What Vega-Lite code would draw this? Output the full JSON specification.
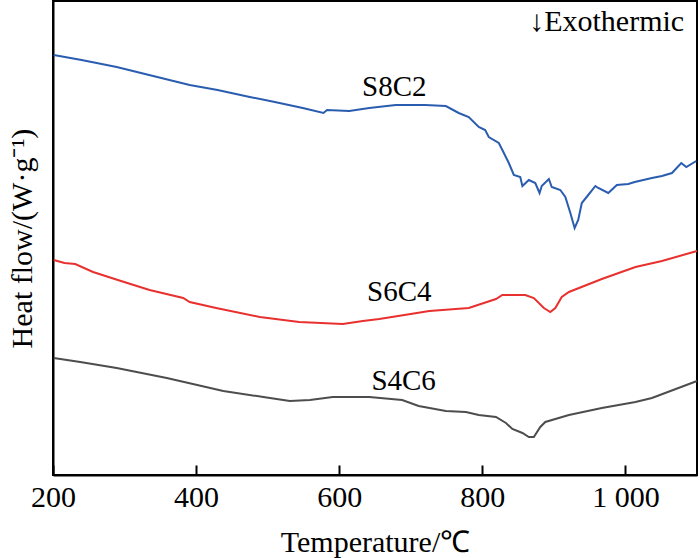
{
  "$schema": "https://vega.github.io/schema/vega-lite/v6.json",
  "width": 644,
  "height": 474,
  "autosize": "none",
  "padding": {"left": 53, "top": 1, "right": 3, "bottom": 83},
  "background": "white",
  "config": {
    "font": "Liberation Serif",
    "view": {"stroke": "black", "strokeWidth": 2}
  },
  "datasets": {
    "curves": [
      {"sample": "S8C2", "T": 201, "hf": 4.20},
      {"sample": "S8C2", "T": 240, "hf": 4.15},
      {"sample": "S8C2", "T": 289, "hf": 4.08},
      {"sample": "S8C2", "T": 340, "hf": 3.99},
      {"sample": "S8C2", "T": 391, "hf": 3.90},
      {"sample": "S8C2", "T": 430, "hf": 3.85},
      {"sample": "S8C2", "T": 475, "hf": 3.78},
      {"sample": "S8C2", "T": 510, "hf": 3.73},
      {"sample": "S8C2", "T": 549, "hf": 3.67},
      {"sample": "S8C2", "T": 578, "hf": 3.62},
      {"sample": "S8C2", "T": 583, "hf": 3.65},
      {"sample": "S8C2", "T": 614, "hf": 3.64},
      {"sample": "S8C2", "T": 642, "hf": 3.67},
      {"sample": "S8C2", "T": 679, "hf": 3.70},
      {"sample": "S8C2", "T": 720, "hf": 3.70},
      {"sample": "S8C2", "T": 749, "hf": 3.69},
      {"sample": "S8C2", "T": 767, "hf": 3.62},
      {"sample": "S8C2", "T": 781, "hf": 3.58},
      {"sample": "S8C2", "T": 795, "hf": 3.48},
      {"sample": "S8C2", "T": 804, "hf": 3.45},
      {"sample": "S8C2", "T": 809, "hf": 3.38},
      {"sample": "S8C2", "T": 823, "hf": 3.32},
      {"sample": "S8C2", "T": 828, "hf": 3.25},
      {"sample": "S8C2", "T": 837, "hf": 3.12},
      {"sample": "S8C2", "T": 844, "hf": 3.00},
      {"sample": "S8C2", "T": 853, "hf": 2.98},
      {"sample": "S8C2", "T": 856, "hf": 2.89},
      {"sample": "S8C2", "T": 865, "hf": 2.95},
      {"sample": "S8C2", "T": 874, "hf": 2.92},
      {"sample": "S8C2", "T": 880, "hf": 2.82},
      {"sample": "S8C2", "T": 883, "hf": 2.89},
      {"sample": "S8C2", "T": 893, "hf": 2.96},
      {"sample": "S8C2", "T": 897, "hf": 2.88},
      {"sample": "S8C2", "T": 909, "hf": 2.85},
      {"sample": "S8C2", "T": 916, "hf": 2.78},
      {"sample": "S8C2", "T": 923, "hf": 2.62},
      {"sample": "S8C2", "T": 929, "hf": 2.47},
      {"sample": "S8C2", "T": 934, "hf": 2.55},
      {"sample": "S8C2", "T": 939, "hf": 2.72},
      {"sample": "S8C2", "T": 948, "hf": 2.80},
      {"sample": "S8C2", "T": 958, "hf": 2.89},
      {"sample": "S8C2", "T": 962, "hf": 2.87},
      {"sample": "S8C2", "T": 976, "hf": 2.82},
      {"sample": "S8C2", "T": 988, "hf": 2.90},
      {"sample": "S8C2", "T": 1004, "hf": 2.91},
      {"sample": "S8C2", "T": 1013, "hf": 2.93},
      {"sample": "S8C2", "T": 1037, "hf": 2.97},
      {"sample": "S8C2", "T": 1051, "hf": 2.99},
      {"sample": "S8C2", "T": 1065, "hf": 3.02},
      {"sample": "S8C2", "T": 1078, "hf": 3.12},
      {"sample": "S8C2", "T": 1085, "hf": 3.08},
      {"sample": "S8C2", "T": 1099, "hf": 3.14},
      {"sample": "S6C4", "T": 201, "hf": 2.15},
      {"sample": "S6C4", "T": 216, "hf": 2.12},
      {"sample": "S6C4", "T": 231, "hf": 2.11},
      {"sample": "S6C4", "T": 256, "hf": 2.03},
      {"sample": "S6C4", "T": 295, "hf": 1.94},
      {"sample": "S6C4", "T": 335, "hf": 1.85},
      {"sample": "S6C4", "T": 382, "hf": 1.77},
      {"sample": "S6C4", "T": 391, "hf": 1.73},
      {"sample": "S6C4", "T": 428, "hf": 1.67},
      {"sample": "S6C4", "T": 489, "hf": 1.58},
      {"sample": "S6C4", "T": 544, "hf": 1.53},
      {"sample": "S6C4", "T": 605, "hf": 1.51},
      {"sample": "S6C4", "T": 633, "hf": 1.54},
      {"sample": "S6C4", "T": 656, "hf": 1.56},
      {"sample": "S6C4", "T": 726, "hf": 1.64},
      {"sample": "S6C4", "T": 781, "hf": 1.67},
      {"sample": "S6C4", "T": 819, "hf": 1.76},
      {"sample": "S6C4", "T": 828, "hf": 1.80},
      {"sample": "S6C4", "T": 860, "hf": 1.80},
      {"sample": "S6C4", "T": 872, "hf": 1.77},
      {"sample": "S6C4", "T": 886, "hf": 1.67},
      {"sample": "S6C4", "T": 895, "hf": 1.63},
      {"sample": "S6C4", "T": 902, "hf": 1.67},
      {"sample": "S6C4", "T": 911, "hf": 1.78},
      {"sample": "S6C4", "T": 921, "hf": 1.83},
      {"sample": "S6C4", "T": 967, "hf": 1.96},
      {"sample": "S6C4", "T": 1014, "hf": 2.08},
      {"sample": "S6C4", "T": 1051, "hf": 2.14},
      {"sample": "S6C4", "T": 1100, "hf": 2.24},
      {"sample": "S4C6", "T": 201, "hf": 1.17},
      {"sample": "S4C6", "T": 238, "hf": 1.13},
      {"sample": "S4C6", "T": 289, "hf": 1.07},
      {"sample": "S4C6", "T": 359, "hf": 0.97},
      {"sample": "S4C6", "T": 438, "hf": 0.84},
      {"sample": "S4C6", "T": 494, "hf": 0.78},
      {"sample": "S4C6", "T": 531, "hf": 0.74},
      {"sample": "S4C6", "T": 559, "hf": 0.75},
      {"sample": "S4C6", "T": 591, "hf": 0.78},
      {"sample": "S4C6", "T": 642, "hf": 0.78},
      {"sample": "S4C6", "T": 688, "hf": 0.75},
      {"sample": "S4C6", "T": 711, "hf": 0.69},
      {"sample": "S4C6", "T": 749, "hf": 0.64},
      {"sample": "S4C6", "T": 777, "hf": 0.63},
      {"sample": "S4C6", "T": 795, "hf": 0.60},
      {"sample": "S4C6", "T": 819, "hf": 0.58},
      {"sample": "S4C6", "T": 833, "hf": 0.52},
      {"sample": "S4C6", "T": 842, "hf": 0.46},
      {"sample": "S4C6", "T": 856, "hf": 0.42},
      {"sample": "S4C6", "T": 865, "hf": 0.38},
      {"sample": "S4C6", "T": 872, "hf": 0.38},
      {"sample": "S4C6", "T": 881, "hf": 0.48},
      {"sample": "S4C6", "T": 888, "hf": 0.53},
      {"sample": "S4C6", "T": 921, "hf": 0.60},
      {"sample": "S4C6", "T": 967, "hf": 0.67},
      {"sample": "S4C6", "T": 1014, "hf": 0.73},
      {"sample": "S4C6", "T": 1037, "hf": 0.77},
      {"sample": "S4C6", "T": 1100, "hf": 0.94}
    ],
    "labels": [
      {"label": "S8C2", "T": 677, "hf": 3.88, "kind": "curve"},
      {"label": "S6C4", "T": 684, "hf": 1.83, "kind": "curve"},
      {"label": "S4C6", "T": 690, "hf": 0.94, "kind": "curve"},
      {"label": "↓Exothermic", "T": 1082, "hf": 4.53, "kind": "note"}
    ]
  },
  "layer": [
    {
      "data": {"name": "curves"},
      "mark": {"type": "line", "strokeWidth": 2},
      "encoding": {
        "x": {
          "field": "T",
          "type": "quantitative",
          "scale": {"domain": [200, 1100], "nice": false},
          "axis": {
            "title": "Temperature/℃",
            "values": [200, 400, 600, 800, 1000],
            "labelExpr": "replace(format(datum.value, ','), ',', ' ')",
            "grid": false,
            "domainColor": "black",
            "domainWidth": 2,
            "tickColor": "black",
            "tickWidth": 2,
            "tickSize": -10,
            "labelFontSize": 30,
            "labelColor": "black",
            "labelPadding": 17,
            "labelFlush": false,
            "titleFontSize": 30,
            "titleFontWeight": "normal",
            "titleColor": "black",
            "titlePadding": 15
          }
        },
        "y": {
          "field": "hf",
          "type": "quantitative",
          "scale": {"domain": [0, 4.74], "nice": false},
          "axis": {
            "title": "Heat flow/(W·g⁻¹)",
            "labels": false,
            "ticks": false,
            "grid": false,
            "domainColor": "black",
            "domainWidth": 2,
            "titleFontSize": 30,
            "titleFontWeight": "normal",
            "titleColor": "black",
            "titlePadding": 16
          }
        },
        "color": {
          "field": "sample",
          "type": "nominal",
          "scale": {"domain": ["S8C2", "S6C4", "S4C6"], "range": ["#2a5db0", "#e8302f", "#4d4d4d"]},
          "legend": null
        },
        "detail": {"field": "sample"}
      }
    },
    {
      "data": {"name": "labels"},
      "transform": [{"filter": "datum.kind == 'curve'"}],
      "mark": {"type": "text", "fontSize": 29, "align": "center", "baseline": "middle", "color": "black"},
      "encoding": {
        "x": {"field": "T", "type": "quantitative"},
        "y": {"field": "hf", "type": "quantitative"},
        "text": {"field": "label"}
      }
    },
    {
      "data": {"name": "labels"},
      "transform": [{"filter": "datum.kind == 'note'"}],
      "mark": {"type": "text", "fontSize": 30, "align": "right", "baseline": "middle", "color": "black"},
      "encoding": {
        "x": {"field": "T", "type": "quantitative"},
        "y": {"field": "hf", "type": "quantitative"},
        "text": {"field": "label"}
      }
    }
  ]
}
